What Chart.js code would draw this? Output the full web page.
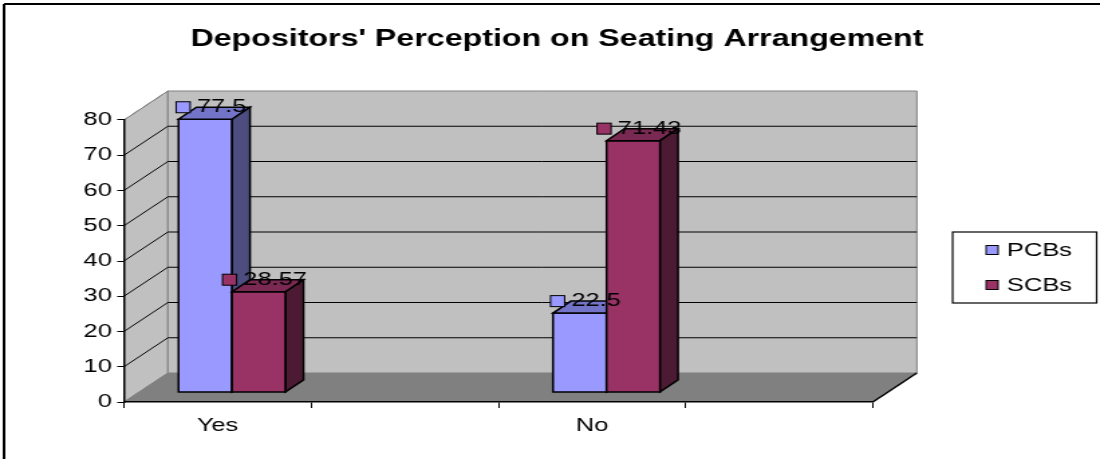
<!DOCTYPE html>
<html>
<head>
<meta charset="utf-8">
<script src="https://cdn.jsdelivr.net/npm/chart.js@4.4.1/dist/chart.umd.min.js"></script>
<style>
  html, body { margin: 0; padding: 0; background: #fff; overflow: hidden; }
  /* the chart is drawn narrow and stretched sideways, like the old spreadsheet export */
  #wrap { width: 821px; height: 459px; transform: scaleX(1.3398); transform-origin: 0 0; }
</style>
</head>
<body>
<div id="wrap"><canvas id="grafico" width="821" height="459"></canvas></div>
<script>
var titulo = "Depositors' Perception on Seating Arrangement";
var categorias = ['Yes', '', 'No', ''];
var series = ['PCBs', 'SCBs'];
var valoresPCB = [77.5, null, 22.5, null];
var valoresSCB = [28.57, null, 71.43, null];
var ticksY = [0, 10, 20, 30, 40, 50, 60, 70, 80];

var corFrente = ['#9999FF', '#993366'];
var corTopo = ['#7373C8', '#7A2952'];
var corLado = ['#4D4D80', '#4D1A33'];

var FONTE = '"Liberation Sans", Arial, sans-serif';

// depth of the box (floor / side wall) and of each column
var DX = 32.8, DY = -29;
var POS_BARRA = 0.33;
var BDX = 13.4, BDY = -12;

function poligono(ctx, pts, fill, stroke) {
  ctx.beginPath();
  ctx.moveTo(pts[0][0], pts[0][1]);
  for (var i = 1; i < pts.length; i++) ctx.lineTo(pts[i][0], pts[i][1]);
  ctx.closePath();
  if (fill) { ctx.fillStyle = fill; ctx.fill(); }
  if (stroke) { ctx.strokeStyle = stroke; ctx.stroke(); }
}

function linha(ctx, x1, y1, x2, y2, cor) {
  ctx.beginPath();
  ctx.moveTo(x1, y1);
  ctx.lineTo(x2, y2);
  ctx.strokeStyle = cor;
  ctx.stroke();
}

// walls, floor and gridlines go under everything else
var paredes = {
  id: 'paredes',
  beforeDraw: function(chart) {
    var ctx = chart.ctx, a = chart.chartArea, y = chart.scales.y;
    var l = a.left, r = a.right;
    var t = y.getPixelForValue(y.max), b = y.getPixelForValue(0);
    ctx.save();
    ctx.lineWidth = 1;
    poligono(ctx, [[l, b], [l, t], [l + DX, t + DY], [l + DX, b + DY]], '#C0C0C0', '#808080');
    poligono(ctx, [[l + DX, t + DY], [r + DX, t + DY], [r + DX, b + DY], [l + DX, b + DY]], '#C0C0C0', '#808080');
    poligono(ctx, [[l, b], [r, b], [r + DX, b + DY], [l + DX, b + DY]], '#808080', null);

    ticksY.forEach(function(v) {
      var py = y.getPixelForValue(v);
      if (v > 0 && v < y.max) {
        linha(ctx, l, py, l + DX, py + DY, '#000');
        linha(ctx, l + DX, py + DY, r + DX, py + DY, '#000');
      }
    });
    linha(ctx, l, t, l + DX, t + DY, '#808080');
    linha(ctx, l, b, l + DX, b + DY, '#808080');
    ctx.lineWidth = 1.5;
    linha(ctx, r, b, r + DX, b + DY, '#000');
    ctx.restore();
  }
};

// columns drawn as boxes from the bar elements, plus their value labels
var colunas = {
  id: 'colunas',
  beforeDatasetDraw: function() { return false; },
  afterDatasetsDraw: function(chart) {
    var ctx = chart.ctx;
    var sx = DX * POS_BARRA, sy = DY * POS_BARRA;
    var rotulos = [];
    ctx.save();
    ctx.lineWidth = 1.5;
    ctx.lineJoin = 'miter';
    for (var i = 0; i < categorias.length; i++) {
      chart.data.datasets.forEach(function(ds, k) {
        if (ds.data[i] == null) return;
        var el = chart.getDatasetMeta(k).data[i];
        var esq = el.x - el.width / 2 + sx, dir = el.x + el.width / 2 + sx;
        var topo = el.y + sy, base = el.base + sy;
        poligono(ctx, [[esq, topo], [dir, topo], [dir, base], [esq, base]], corFrente[k], '#000');
        poligono(ctx, [[esq, topo], [dir, topo], [dir + BDX, topo + BDY], [esq + BDX, topo + BDY]], corTopo[k], '#000');
        poligono(ctx, [[dir, topo], [dir + BDX, topo + BDY], [dir + BDX, base + BDY], [dir, base]], corLado[k], '#000');
        rotulos.push({ x: el.x + sx + BDX / 2, y: topo + BDY, texto: String(ds.data[i]), cor: corFrente[k] });
      });
    }
    ctx.font = '19px ' + FONTE;
    ctx.textBaseline = 'middle';
    ctx.textAlign = 'left';
    ctx.lineWidth = 1;
    rotulos.forEach(function(r) {
      var tw = ctx.measureText(r.texto).width;
      var x0 = r.x - (16 + tw) / 2 - 2;
      ctx.fillStyle = r.cor;
      ctx.fillRect(x0, r.y - 5.5, 10.5, 11);
      ctx.strokeStyle = '#000';
      ctx.strokeRect(x0, r.y - 5.5, 10.5, 11);
      ctx.fillStyle = '#000';
      ctx.fillText(r.texto, x0 + 15.5, r.y);
    });
    ctx.restore();
  }
};

// boxed legend at the right and the outer frame
var legenda = {
  id: 'legenda',
  afterDraw: function(chart) {
    var ctx = chart.ctx;
    ctx.save();
    ctx.fillStyle = '#fff';
    ctx.fillRect(711, 232, 107.5, 71);
    ctx.lineWidth = 1.2;
    ctx.strokeStyle = '#000';
    ctx.strokeRect(711, 232, 107.5, 71);
    ctx.font = '19px ' + FONTE;
    ctx.textBaseline = 'middle';
    ctx.lineWidth = 1;
    series.forEach(function(nome, k) {
      var yy = 250 + k * 35;
      ctx.fillStyle = corFrente[k];
      ctx.fillRect(736, yy - 4.5, 9, 9);
      ctx.strokeRect(736, yy - 4.5, 9, 9);
      ctx.fillStyle = '#000';
      ctx.fillText(nome, 751.5, yy + 1);
    });
    ctx.lineWidth = 2;
    linha(ctx, 3, 4, chart.width, 4, '#000');
    linha(ctx, 3, 4, 3, chart.height, '#000');
    ctx.restore();
  }
};

Chart.defaults.font.family = FONTE;
Chart.defaults.color = '#000';

var ctx = document.getElementById('grafico').getContext('2d');
var grafico = new Chart(ctx, {
  type: 'bar',
  data: {
    labels: categorias,
    datasets: [
      { label: series[0], data: valoresPCB, backgroundColor: corFrente[0] },
      { label: series[1], data: valoresSCB, backgroundColor: corFrente[1] }
    ]
  },
  plugins: [paredes, colunas, legenda],
  options: {
    responsive: false,
    animation: false,
    devicePixelRatio: 1,
    categoryPercentage: 0.572,
    barPercentage: 1,
    layout: { padding: { left: 10.4, right: 0, top: 0, bottom: 0 } },
    plugins: {
      legend: { display: false },
      tooltip: { enabled: false },
      title: {
        display: true,
        text: titulo,
        font: { size: 24, weight: 'bold' },
        padding: { top: 24.6, bottom: 66.6 }
      }
    },
    scales: {
      x: {
        grid: { display: true, drawOnChartArea: false, drawTicks: true, tickLength: 6, color: '#000', offset: true },
        border: { display: true, color: '#000', width: 1.5 },
        ticks: { font: { size: 19 }, padding: 6, maxRotation: 0, autoSkip: false },
        afterFit: function(s) { s.height = 57; }
      },
      y: {
        min: 0,
        max: 80,
        ticks: { stepSize: 10, font: { size: 19 }, padding: 4 },
        grid: { display: true, drawOnChartArea: false, drawTicks: true, tickLength: 5, color: '#000' },
        border: { display: true, color: '#000', width: 1.5 },
        afterFit: function(s) { s.width = 82.1; }
      },
      lado: {
        type: 'linear',
        position: 'right',
        display: true,
        grid: { display: false },
        border: { display: false },
        ticks: { display: false },
        afterFit: function(s) { s.width = 169.5; }
      }
    }
  }
});
</script>
</body>
</html>
